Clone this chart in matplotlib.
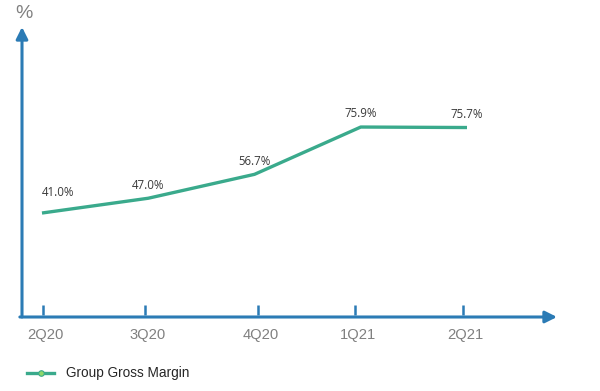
import matplotlib.pyplot as plt

quarters = ['2Q20', '3Q20', '4Q20', '1Q21', '2Q21']
margin = [41.0, 47.0, 56.7, 75.9, 75.7]
value_labels = ['41.0%', '47.0%', '56.7%', '75.9%', '75.7%']

# tick marks don't sit exactly under the line points in the original
tick_pos = [0.01, 0.97, 2.03, 2.95, 3.96]

axis_col = '#2b7bb5'
line_col = '#3aaa8c'
plt.rcParams['font.family'] = ['Liberation Sans', 'DejaVu Sans']

fig = plt.figure(figsize=(6, 3.91), dpi=100)
ax = fig.add_axes([22 / 600, 1 - 317 / 391, 535 / 600, 290 / 391])
ax.set_xlim(-0.188, 4.847)
ax.set_ylim(-1.2, 116.5)
ax.axis('off')

x = list(range(len(margin)))
ax.plot(x, margin, color=line_col, lw=2.4, solid_capstyle='butt')

for i, (v, t) in enumerate(zip(margin, value_labels)):
    dx, dy = (11.5, 15) if i == 0 else (0, 9.5)
    ax.annotate(t, (i, v), xytext=(dx, dy), textcoords='offset points',
                ha='center', va='center', fontsize=8.3, color='#3a3a3a',
                family=['Open Sans', 'DejaVu Sans'])

# axes with arrows
ax.annotate('', xy=(0, 1.0), xytext=(0, 0), xycoords='axes fraction',
            arrowprops=dict(arrowstyle='-|>,head_length=0.7,head_width=0.35',
                            color=axis_col, lw=2.2, shrinkA=0, shrinkB=0))
ax.annotate('', xy=(1.0, 0), xytext=(-0.004, 0), xycoords='axes fraction',
            arrowprops=dict(arrowstyle='-|>,head_length=0.7,head_width=0.35',
                            color=axis_col, lw=2.2, shrinkA=0, shrinkB=0))

for p, q in zip(tick_pos, quarters):
    ax.plot([p, p], [-0.5, 3.6], color=axis_col, lw=1.8, solid_capstyle='butt')
    ax.annotate(q, (p, -1.2), xytext=(2, -13), textcoords='offset points',
                ha='center', va='center', fontsize=10.6, color='#808080')

fig.text(24 / 600, 1 - 14 / 391, '%', ha='center', va='center',
         fontsize=14, color='#808080')

# legend
fig.add_artist(plt.Line2D([27 / 600, 54 / 600], [1 - 373 / 391] * 2,
                          color=line_col, lw=2.4))
fig.add_artist(plt.Line2D([40.5 / 600], [1 - 373 / 391], marker='o', ms=4,
                          color='#8fd86a', markeredgecolor=line_col, mew=0.8))
fig.text(66 / 600, 1 - 373 / 391, 'Group Gross Margin', ha='left', va='center',
         fontsize=9.8, color='#262626')

fig.savefig('out.png', dpi=100, facecolor='white')
